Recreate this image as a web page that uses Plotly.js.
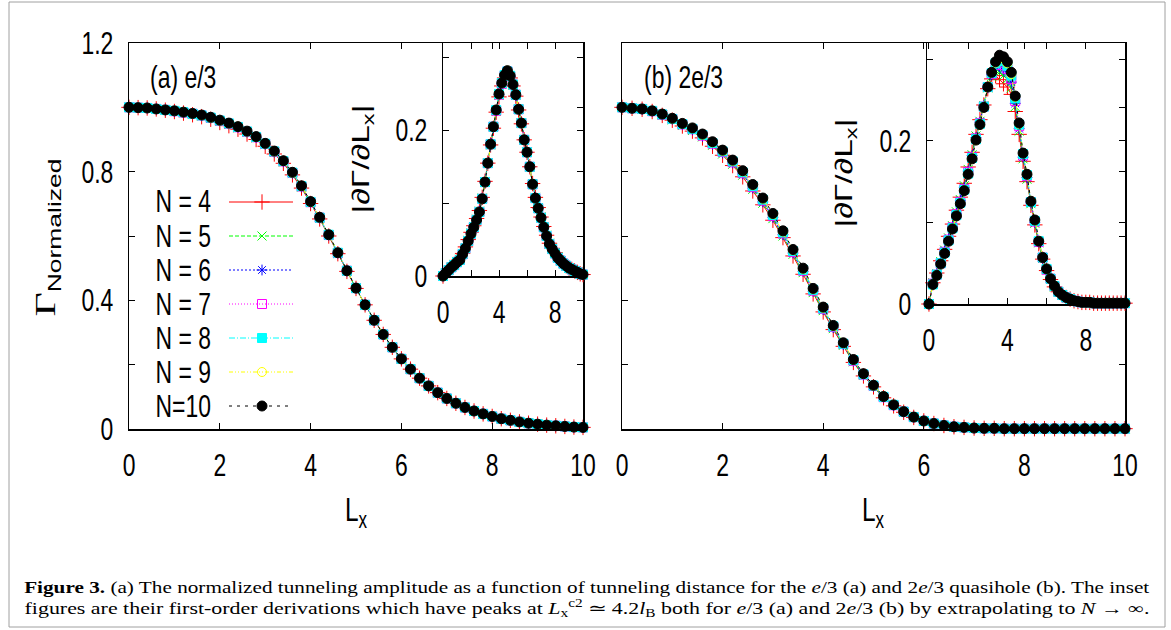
<!DOCTYPE html>
<html>
<head>
<meta charset="utf-8">
<script src="https://cdn.plot.ly/plotly-3.0.1.min.js"></script>
<style>html,body{margin:0;padding:0;background:#fff;}#chart{width:1171px;height:630px;}</style>
</head>
<body>
<div id="chart"></div>
<script>
// ---------------- DATA ----------------
const Lx = [0,0.2,0.4,0.6,0.8,1,1.2,1.4,1.6,1.8,2,2.2,2.4,2.6,2.8,3,3.2,3.4,3.6,3.8,4,4.2,4.4,4.6,4.8,5,5.2,5.4,5.6,5.8,6,6.2,6.4,6.6,6.8,7,7.2,7.4,7.6,7.8,8,8.2,8.4,8.6,8.8,9,9.2,9.4,9.6,9.8,10];
const seriesNames = ['N = 4','N = 5','N = 6','N = 7','N = 8','N = 9','N=10'];

// (a) e/3 : normalized tunneling amplitude
const gA4  = [1.000,0.999,0.998,0.995,0.991,0.987,0.982,0.977,0.971,0.963,0.953,0.943,0.932,0.917,0.900,0.879,0.855,0.826,0.790,0.749,0.701,0.653,0.600,0.545,0.490,0.437,0.386,0.338,0.294,0.254,0.218,0.186,0.158,0.134,0.113,0.095,0.080,0.067,0.056,0.047,0.039,0.032,0.027,0.022,0.018,0.015,0.012,0.010,0.008,0.006,0.005];
const gA5  = [1.000,0.999,0.998,0.995,0.991,0.988,0.983,0.979,0.973,0.966,0.957,0.947,0.936,0.922,0.905,0.884,0.860,0.830,0.794,0.752,0.704,0.655,0.602,0.546,0.491,0.437,0.386,0.338,0.294,0.254,0.218,0.186,0.158,0.134,0.113,0.095,0.080,0.067,0.056,0.047,0.039,0.032,0.027,0.022,0.018,0.015,0.012,0.010,0.008,0.006,0.005];
const gA6  = [1.000,0.999,0.998,0.995,0.992,0.988,0.984,0.980,0.974,0.967,0.958,0.949,0.938,0.923,0.906,0.885,0.861,0.831,0.795,0.753,0.705,0.656,0.603,0.547,0.491,0.438,0.386,0.338,0.294,0.254,0.218,0.186,0.158,0.134,0.113,0.095,0.080,0.067,0.056,0.047,0.039,0.032,0.027,0.022,0.018,0.015,0.012,0.010,0.008,0.006,0.005];
const gA7  = [1.000,0.999,0.998,0.995,0.992,0.988,0.984,0.980,0.975,0.967,0.958,0.949,0.938,0.924,0.907,0.886,0.862,0.832,0.796,0.754,0.705,0.657,0.603,0.547,0.492,0.438,0.386,0.338,0.294,0.254,0.218,0.186,0.158,0.134,0.113,0.095,0.080,0.067,0.056,0.047,0.039,0.032,0.027,0.022,0.018,0.015,0.012,0.010,0.008,0.006,0.005];
const gA8  = [1.000,0.999,0.998,0.995,0.992,0.989,0.985,0.980,0.975,0.968,0.959,0.950,0.939,0.925,0.908,0.887,0.863,0.833,0.797,0.755,0.706,0.657,0.604,0.548,0.492,0.438,0.386,0.338,0.294,0.254,0.218,0.186,0.158,0.134,0.113,0.095,0.080,0.067,0.056,0.047,0.039,0.032,0.027,0.022,0.018,0.015,0.012,0.010,0.008,0.006,0.005];
const gA9  = [1.000,0.999,0.998,0.995,0.992,0.989,0.985,0.981,0.976,0.968,0.959,0.950,0.940,0.925,0.908,0.887,0.863,0.833,0.797,0.755,0.706,0.658,0.604,0.548,0.492,0.438,0.386,0.338,0.294,0.254,0.218,0.186,0.158,0.134,0.113,0.095,0.080,0.067,0.056,0.047,0.039,0.032,0.027,0.022,0.018,0.015,0.012,0.010,0.008,0.006,0.005];
const gA10 = [1.000,0.999,0.998,0.995,0.992,0.989,0.985,0.981,0.976,0.969,0.960,0.951,0.940,0.926,0.909,0.888,0.864,0.834,0.798,0.756,0.707,0.658,0.604,0.548,0.492,0.438,0.386,0.338,0.294,0.254,0.218,0.186,0.158,0.134,0.113,0.095,0.080,0.067,0.056,0.047,0.039,0.032,0.027,0.022,0.018,0.015,0.012,0.010,0.008,0.006,0.005];

// (a) inset : |dGamma/dLx|
const dA4  = [0.000,0.004,0.008,0.012,0.016,0.020,0.024,0.031,0.040,0.050,0.060,0.069,0.079,0.090,0.108,0.130,0.155,0.180,0.203,0.225,0.246,0.261,0.272,0.278,0.272,0.261,0.247,0.228,0.209,0.187,0.170,0.150,0.127,0.108,0.094,0.081,0.068,0.056,0.045,0.038,0.032,0.026,0.022,0.018,0.014,0.011,0.009,0.007,0.005,0.003,0.002];
const dA5  = [0.000,0.004,0.008,0.012,0.016,0.020,0.023,0.031,0.039,0.049,0.059,0.068,0.078,0.089,0.107,0.129,0.155,0.180,0.204,0.226,0.248,0.263,0.274,0.280,0.273,0.262,0.248,0.229,0.210,0.187,0.170,0.150,0.127,0.108,0.094,0.081,0.068,0.056,0.045,0.038,0.032,0.026,0.021,0.017,0.014,0.011,0.009,0.007,0.005,0.003,0.002];
const dA6  = [0.000,0.004,0.008,0.012,0.015,0.019,0.023,0.031,0.039,0.049,0.059,0.068,0.078,0.089,0.107,0.129,0.155,0.181,0.204,0.227,0.249,0.264,0.275,0.281,0.274,0.262,0.248,0.229,0.210,0.187,0.170,0.150,0.126,0.107,0.093,0.080,0.067,0.055,0.045,0.037,0.031,0.025,0.021,0.017,0.014,0.011,0.009,0.007,0.005,0.003,0.002];
const dA7  = [0.000,0.004,0.008,0.012,0.015,0.019,0.022,0.030,0.038,0.048,0.058,0.067,0.077,0.088,0.106,0.129,0.155,0.181,0.205,0.227,0.249,0.264,0.275,0.281,0.274,0.263,0.249,0.229,0.210,0.187,0.170,0.150,0.126,0.107,0.093,0.080,0.067,0.055,0.044,0.037,0.031,0.025,0.021,0.017,0.014,0.011,0.009,0.007,0.005,0.003,0.002];
const dA8  = [0.000,0.004,0.008,0.012,0.015,0.019,0.022,0.030,0.038,0.048,0.058,0.067,0.077,0.088,0.106,0.129,0.155,0.181,0.205,0.228,0.250,0.265,0.276,0.281,0.275,0.263,0.249,0.229,0.210,0.187,0.170,0.150,0.126,0.107,0.093,0.080,0.067,0.055,0.044,0.037,0.031,0.025,0.021,0.017,0.014,0.011,0.009,0.007,0.005,0.003,0.002];
const dA9  = [0.000,0.004,0.008,0.012,0.015,0.019,0.022,0.030,0.038,0.048,0.058,0.067,0.077,0.088,0.106,0.129,0.155,0.181,0.205,0.228,0.250,0.265,0.276,0.282,0.275,0.263,0.249,0.229,0.210,0.187,0.170,0.150,0.126,0.107,0.093,0.080,0.067,0.055,0.044,0.037,0.031,0.025,0.021,0.017,0.014,0.011,0.009,0.007,0.005,0.003,0.002];
const dA10 = [0.000,0.004,0.008,0.012,0.015,0.019,0.022,0.030,0.038,0.048,0.058,0.067,0.077,0.088,0.106,0.129,0.155,0.181,0.205,0.228,0.250,0.265,0.276,0.282,0.275,0.263,0.249,0.229,0.210,0.187,0.170,0.150,0.126,0.107,0.093,0.080,0.067,0.055,0.044,0.037,0.031,0.025,0.021,0.017,0.014,0.011,0.009,0.007,0.005,0.003,0.002];

// (b) 2e/3 : normalized tunneling amplitude
const gB4  = [1.000,0.997,0.994,0.987,0.975,0.960,0.942,0.926,0.905,0.879,0.851,0.819,0.784,0.740,0.697,0.649,0.595,0.538,0.481,0.420,0.364,0.309,0.257,0.207,0.165,0.131,0.097,0.072,0.052,0.036,0.025,0.017,0.011,0.007,0.005,0.003,0.002,0.002,0.001,0.001,0.001,0.001,0.001,0.001,0.001,0.001,0.001,0.001,0.001,0.001,0.001];
const gB5  = [1.000,0.997,0.994,0.987,0.976,0.961,0.944,0.928,0.908,0.882,0.855,0.823,0.789,0.745,0.702,0.654,0.600,0.543,0.486,0.424,0.368,0.312,0.260,0.209,0.167,0.132,0.098,0.073,0.052,0.036,0.025,0.017,0.011,0.007,0.005,0.003,0.002,0.002,0.001,0.001,0.001,0.001,0.001,0.001,0.001,0.001,0.001,0.001,0.001,0.001,0.001];
const gB6  = [1.000,0.997,0.994,0.988,0.977,0.963,0.946,0.930,0.910,0.885,0.858,0.827,0.793,0.749,0.706,0.658,0.604,0.547,0.490,0.428,0.371,0.315,0.262,0.211,0.168,0.133,0.099,0.073,0.053,0.037,0.025,0.017,0.011,0.007,0.005,0.003,0.002,0.002,0.001,0.001,0.001,0.001,0.001,0.001,0.001,0.001,0.001,0.001,0.001,0.001,0.001];
const gB7  = [1.000,0.997,0.995,0.988,0.977,0.964,0.947,0.932,0.912,0.887,0.861,0.829,0.795,0.752,0.710,0.662,0.608,0.550,0.492,0.430,0.373,0.317,0.264,0.212,0.169,0.134,0.099,0.074,0.054,0.037,0.025,0.017,0.011,0.007,0.005,0.003,0.002,0.002,0.001,0.001,0.001,0.001,0.001,0.001,0.001,0.001,0.001,0.001,0.001,0.001,0.001];
const gB8  = [1.000,0.997,0.995,0.989,0.978,0.964,0.948,0.933,0.914,0.889,0.863,0.832,0.798,0.755,0.713,0.665,0.611,0.553,0.495,0.433,0.375,0.319,0.265,0.214,0.170,0.135,0.100,0.075,0.054,0.037,0.025,0.017,0.011,0.007,0.005,0.003,0.002,0.002,0.001,0.001,0.001,0.001,0.001,0.001,0.001,0.001,0.001,0.001,0.001,0.001,0.001];
const gB9  = [1.000,0.997,0.995,0.989,0.979,0.965,0.949,0.935,0.915,0.891,0.865,0.834,0.801,0.758,0.716,0.668,0.614,0.556,0.498,0.435,0.377,0.320,0.267,0.215,0.171,0.135,0.101,0.075,0.054,0.037,0.025,0.017,0.011,0.007,0.005,0.003,0.002,0.002,0.001,0.001,0.001,0.001,0.001,0.001,0.001,0.001,0.001,0.001,0.001,0.001,0.001];
const gB10 = [1.000,0.997,0.995,0.989,0.979,0.966,0.950,0.936,0.917,0.893,0.867,0.836,0.803,0.760,0.718,0.670,0.616,0.558,0.500,0.437,0.379,0.322,0.268,0.216,0.172,0.136,0.101,0.075,0.054,0.037,0.025,0.017,0.011,0.007,0.005,0.003,0.002,0.002,0.001,0.001,0.001,0.001,0.001,0.001,0.001,0.001,0.001,0.001,0.001,0.001,0.001];

// (b) inset : |dGamma/dLx|
const dB4  = [0.000,0.026,0.038,0.053,0.067,0.083,0.098,0.115,0.131,0.148,0.168,0.186,0.208,0.226,0.244,0.264,0.276,0.280,0.275,0.270,0.266,0.257,0.236,0.208,0.175,0.150,0.121,0.097,0.074,0.055,0.041,0.030,0.021,0.015,0.011,0.008,0.006,0.004,0.003,0.002,0.002,0.002,0.001,0.001,0.001,0.001,0.001,0.001,0.001,0.001,0.001];
const dB5  = [0.000,0.026,0.037,0.052,0.066,0.081,0.096,0.113,0.128,0.145,0.165,0.183,0.206,0.224,0.243,0.265,0.279,0.286,0.284,0.280,0.276,0.265,0.242,0.212,0.178,0.153,0.123,0.099,0.075,0.056,0.042,0.030,0.021,0.015,0.011,0.008,0.006,0.004,0.003,0.002,0.002,0.002,0.001,0.001,0.001,0.001,0.001,0.001,0.001,0.001,0.001];
const dB6  = [0.000,0.025,0.037,0.051,0.065,0.080,0.095,0.111,0.127,0.143,0.163,0.182,0.204,0.223,0.243,0.265,0.281,0.290,0.291,0.287,0.283,0.272,0.246,0.215,0.180,0.155,0.124,0.100,0.076,0.056,0.042,0.031,0.022,0.015,0.011,0.008,0.006,0.004,0.003,0.002,0.002,0.002,0.001,0.001,0.001,0.001,0.001,0.001,0.001,0.001,0.001];
const dB7  = [0.000,0.025,0.036,0.050,0.064,0.079,0.094,0.110,0.125,0.141,0.162,0.180,0.203,0.222,0.242,0.266,0.282,0.293,0.296,0.293,0.288,0.276,0.249,0.218,0.182,0.157,0.125,0.101,0.076,0.057,0.042,0.031,0.022,0.015,0.011,0.008,0.006,0.004,0.003,0.002,0.002,0.002,0.001,0.001,0.001,0.001,0.001,0.001,0.001,0.001,0.001];
const dB8  = [0.000,0.024,0.036,0.050,0.063,0.078,0.093,0.109,0.124,0.140,0.160,0.179,0.202,0.221,0.242,0.266,0.283,0.295,0.300,0.298,0.292,0.280,0.252,0.220,0.184,0.158,0.125,0.102,0.077,0.057,0.043,0.031,0.022,0.015,0.011,0.008,0.006,0.004,0.003,0.002,0.002,0.002,0.001,0.001,0.001,0.001,0.001,0.001,0.001,0.001,0.001];
const dB9  = [0.000,0.024,0.035,0.049,0.062,0.077,0.092,0.108,0.123,0.139,0.159,0.178,0.201,0.220,0.241,0.266,0.284,0.296,0.303,0.301,0.295,0.282,0.254,0.221,0.185,0.159,0.126,0.103,0.077,0.057,0.043,0.031,0.022,0.015,0.011,0.008,0.006,0.004,0.003,0.002,0.002,0.002,0.001,0.001,0.001,0.001,0.001,0.001,0.001,0.001,0.001];
const dB10 = [0.000,0.024,0.035,0.049,0.062,0.077,0.092,0.108,0.123,0.139,0.159,0.178,0.201,0.220,0.241,0.266,0.284,0.297,0.305,0.303,0.297,0.284,0.255,0.222,0.185,0.159,0.126,0.103,0.077,0.057,0.043,0.031,0.022,0.015,0.011,0.008,0.006,0.004,0.003,0.002,0.002,0.002,0.001,0.001,0.001,0.001,0.001,0.001,0.001,0.001,0.001];

const mainXTicks  = [0,2,4,6,8,10];
const mainYTicks  = [0,0.4,0.8,1.2];
const mainYMinor  = [0.2,0.6,1.0];
const insetXTicks = [0,4,8];
const insetXMinor = [2,6];
const insetYTicks = [0,0.2];
const insetYMinor = [0.1,0.3];

// ---------------- STYLE / LAYOUT ----------------
const W = 1171, H = 630;
const fx = p => p / W;
const fy = p => 1 - p / H;
const SANS = "'Liberation Sans',Arial,Helvetica,sans-serif";
const SERIF = "'Liberation Serif','Times New Roman',serif";
const H_SQUEEZE = 0.74;    // horizontal labels are narrow/tall in the reference
const V_STRETCH = 1.4;     // rotated labels are elongated in the reference
const CAPTION_W = 1126;    // caption lines are justified to this width

const styles = [
  {color:'#ff0000', dash:'solid',              symbol:'cross-thin-open', size:11},
  {color:'#00ff00', dash:'4px,2px',            symbol:'x-thin-open',     size:9},
  {color:'#0000ff', dash:'2px,2px',            symbol:'asterisk-open',   size:9},
  {color:'#ff00ff', dash:'1px,2px',            symbol:'square-open',     size:9},
  {color:'#00ffff', dash:'6px,2px,1px,2px',    symbol:'square',          size:9},
  {color:'#ffff00', dash:'4px,2px,1px,2px,1px,2px', symbol:'circle-open', size:9},
  {color:'#000000', dash:'3px,5px',            symbol:'circle',          size:10}
];

function mk(x, y, s, xa, ya) {
  return {
    x: x, y: y, xaxis: xa, yaxis: ya, type: 'scatter', mode: 'lines+markers',
    cliponaxis: false, hoverinfo: 'skip',
    line: {color: s.color, width: 1, dash: s.dash},
    marker: {symbol: s.symbol, size: s.size, color: s.color, line: {color: s.color, width: 1}}
  };
}

const panels = [
  {sets: [gA4,gA5,gA6,gA7,gA8,gA9,gA10], xa: 'x',  ya: 'y'},
  {sets: [dA4,dA5,dA6,dA7,dA8,dA9,dA10], xa: 'x2', ya: 'y2'},
  {sets: [gB4,gB5,gB6,gB7,gB8,gB9,gB10], xa: 'x3', ya: 'y3'},
  {sets: [dB4,dB5,dB6,dB7,dB8,dB9,dB10], xa: 'x4', ya: 'y4'}
];
const traces = [];
panels.forEach(p => p.sets.forEach((arr, i) => traces.push(mk(Lx, arr, styles[i], p.xa, p.ya))));

// legend keys (text on the left, sample on the right) on a hidden pixel axis
const legTextRight = 213, legX0 = 229, legX1 = 293, legXm = 262, legRow0 = 202, legStep = 34;
const annotations = [];
seriesNames.forEach((nm, i) => {
  const yy = legRow0 + i * legStep;
  const s = styles[i];
  traces.push({
    x: [legX0, legXm, legX1], y: [yy, yy, yy], xaxis: 'x5', yaxis: 'y5', type: 'scatter',
    mode: 'lines+markers', cliponaxis: false, hoverinfo: 'skip',
    line: {color: s.color, width: 1, dash: s.dash},
    marker: {symbol: s.symbol, size: s.size, color: s.color, opacity: [0,1,0], line: {color: s.color, width: 1}}
  });
  annotations.push({xref:'paper', yref:'paper', x: fx(legTextRight), y: fy(yy), xanchor:'right', yanchor:'middle',
    text: nm, showarrow:false, font:{family:SANS, size:31, color:'#000'}});
});

const minorStyle = {ticks:'inside', ticklen:6, tickwidth:1, tickcolor:'#000', showgrid:false};
const axLine = {showline:true, linecolor:'#000', linewidth:1.5, mirror:'ticks', ticks:'inside', ticklen:6,
  tickwidth:1, tickcolor:'#000', showgrid:false, zeroline:false, fixedrange:true,
  tickfont:{family:SANS, size:31, color:'#000'}, ticklabelstandoff: 8};

const layout = {
  width: W, height: H, margin: {l:0, r:0, t:0, b:0, pad:0},
  paper_bgcolor: '#ffffff', plot_bgcolor: 'rgba(0,0,0,0)', showlegend: false,
  xaxis:  Object.assign({}, axLine, {domain:[fx(129), fx(583)], range:[0,10], anchor:'y',  tickvals: mainXTicks}),
  yaxis:  Object.assign({}, axLine, {domain:[fy(429), fy(43)], range:[0,1.2], anchor:'x', tickvals: mainYTicks,
          minor: Object.assign({tickvals: mainYMinor}, minorStyle)}),
  xaxis2: Object.assign({}, axLine, {domain:[fx(443), fx(583)], range:[0,10], anchor:'y2', tickvals: insetXTicks,
          minor: Object.assign({tickvals: insetXMinor}, minorStyle)}),
  yaxis2: Object.assign({}, axLine, {domain:[fy(276), fy(43)], range:[0,0.32], anchor:'x2', tickvals: insetYTicks,
          minor: Object.assign({tickvals: insetYMinor}, minorStyle)}),
  xaxis3: Object.assign({}, axLine, {domain:[fx(622), fx(1125)], range:[0,10], anchor:'y3', tickvals: mainXTicks}),
  yaxis3: Object.assign({}, axLine, {domain:[fy(429), fy(43)], range:[0,1.2], anchor:'x3', tickvals: mainYTicks,
          minor: Object.assign({tickvals: mainYMinor}, minorStyle), showticklabels:false}),
  xaxis4: Object.assign({}, axLine, {domain:[fx(927), fx(1125)], range:[-0.1,10], anchor:'y4', tickvals: insetXTicks,
          minor: Object.assign({tickvals: insetXMinor}, minorStyle)}),
  yaxis4: Object.assign({}, axLine, {domain:[fy(304), fy(43)], range:[0,0.32], anchor:'x4', tickvals: insetYTicks,
          minor: Object.assign({tickvals: insetYMinor}, minorStyle)}),
  xaxis5: {domain:[0,1], range:[0,W], anchor:'y5', visible:false, fixedrange:true},
  yaxis5: {domain:[0,1], range:[H,0], anchor:'x5', visible:false, fixedrange:true},
  annotations: annotations.concat([
    {xref:'paper', yref:'paper', x: fx(148), y: fy(77), xanchor:'left', yanchor:'middle', showarrow:false,
     text:'(a) e/3', font:{family:SANS, size:31, color:'#000'}},
    {xref:'paper', yref:'paper', x: fx(642), y: fy(77), xanchor:'left', yanchor:'middle', showarrow:false,
     text:'(b) 2e/3', font:{family:SANS, size:31, color:'#000'}},
    {xref:'paper', yref:'paper', x: fx(356), y: fy(512), xanchor:'center', yanchor:'middle', showarrow:false,
     text:'L<sub>x</sub>', font:{family:SANS, size:33, color:'#000'}},
    {xref:'paper', yref:'paper', x: fx(873), y: fy(512), xanchor:'center', yanchor:'middle', showarrow:false,
     text:'L<sub>x</sub>', font:{family:SANS, size:33, color:'#000'}},
    {xref:'paper', yref:'paper', x: fx(46), y: fy(238), xanchor:'center', yanchor:'middle', showarrow:false, textangle:-90,
     text:'<span style="font-family:Liberation Serif,Times New Roman,serif;font-size:30px">Γ</span><sub>Normalized</sub>',
     font:{family:SANS, size:27, color:'#000'}},
    {xref:'paper', yref:'paper', x: fx(362), y: fy(159), xanchor:'center', yanchor:'middle', showarrow:false, textangle:-90,
     text:'|∂Γ/∂L<sub>x</sub>|', font:{family:SANS, size:24, color:'#000'}},
    {xref:'paper', yref:'paper', x: fx(845), y: fy(173), xanchor:'center', yanchor:'middle', showarrow:false, textangle:-90,
     text:'|∂Γ/∂L<sub>x</sub>|', font:{family:SANS, size:24, color:'#000'}},
    {xref:'paper', yref:'paper', x: fx(22), y: fy(587), xanchor:'left', yanchor:'middle', showarrow:false,
     text:'<b>Figure 3.</b> (a) The normalized tunneling amplitude as a function of tunneling distance for the <i>e</i>/3 (a) and 2<i>e</i>/3 quasihole (b). The inset',
     font:{family:SERIF, size:16.5, color:'#000'}},
    {xref:'paper', yref:'paper', x: fx(22), y: fy(608), xanchor:'left', yanchor:'middle', showarrow:false,
     text:'figures are their first-order derivations which have peaks at <i>L</i><sub>x</sub><sup>c2</sup> ≃ 4.2<i>l</i><sub>B</sub> both for <i>e</i>/3 (a) and 2<i>e</i>/3 (b) by extrapolating to <i>N</i> → ∞.',
     font:{family:SERIF, size:16.5, color:'#000'}}
  ]),
  shapes: [
    {type:'rect', xref:'paper', yref:'paper', x0: fx(9), x1: fx(1165), y0: fy(627), y1: fy(2),
     line:{color:'#a0a0a0', width:1}, fillcolor:'rgba(0,0,0,0)', layer:'below'}
  ]
};

// reshape rendered text so that it reproduces the narrow / elongated lettering of the reference
function reshapeText(gd) {
  const anns = gd.layout.annotations || [];
  gd.querySelectorAll('svg text').forEach(t => {
    if (!t.textContent || !t.textContent.trim()) return;
    let bb; try { bb = t.getBBox(); } catch (e) { return; }
    if (!bb || !bb.width) return;
    const ff = (t.style.fontFamily || '').toLowerCase();
    const m = t.getCTM();
    const rotated = m && Math.abs(m.b) > 0.5;
    const annG = t.closest('g.annotation');
    let anchor = 'middle';
    if (annG) {
      const a = anns[+annG.getAttribute('data-index')];
      if (a) anchor = a.xanchor === 'left' ? 'start' : a.xanchor === 'right' ? 'end' : 'middle';
    } else {
      anchor = t.getAttribute('text-anchor') || 'middle';
    }
    let s;
    if (ff.indexOf('serif') >= 0 && ff.indexOf('sans') < 0) {
      s = CAPTION_W / bb.width; anchor = 'start';
    } else {
      s = rotated ? V_STRETCH : H_SQUEEZE;
      if (rotated) anchor = 'middle';
    }
    const px = anchor === 'start' ? bb.x : anchor === 'end' ? bb.x + bb.width : bb.x + bb.width / 2;
    const prev = t.getAttribute('transform') || '';
    t.setAttribute('transform', (prev + ' translate(' + px + ',0) scale(' + s + ',1) translate(' + (-px) + ',0)').trim());
  });
}

Plotly.newPlot('chart', traces, layout, {staticPlot:true, displayModeBar:false}).then(reshapeText);
</script>
</body>
</html>
